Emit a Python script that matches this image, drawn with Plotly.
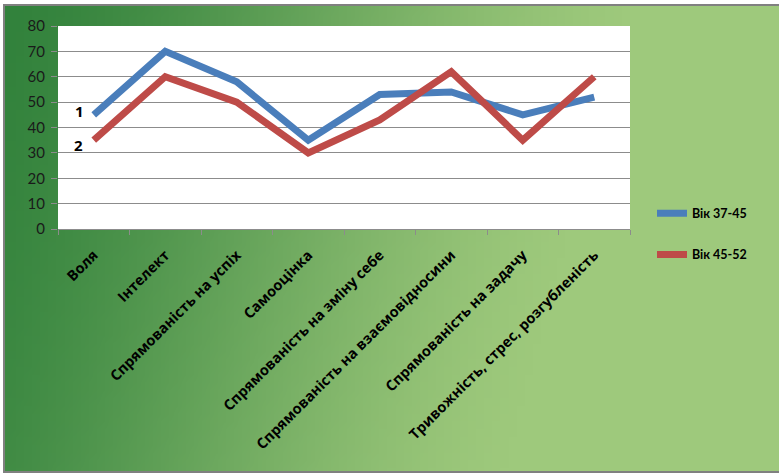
import zlib, struct, base64
import plotly.graph_objects as go

categories = ["Воля", "Інтелект", "Спрямованість на успіх", "Самооцінка",
              "Спрямованість на зміну себе", "Спрямованість на взаємовідносини",
              "Спрямованість на задачу", "Тривожність, стрес, розгубленість"]
series_names = ["Вік 37-45", "Вік 45-52"]
values_37_45 = [45, 70, 58, 35, 53, 54, 45, 52]
values_45_52 = [35, 60, 50, 30, 43, 62, 35, 60]
y_ticks = [0, 10, 20, 30, 40, 50, 60, 70, 80]

W, H = 779, 474
L, R, T, B = 58, 630, 26, 229  # plot area in pixels


def px_x(p):
    return (p - L) / (R - L)


def px_y(p):
    return (B - p) / (B - T)


def grad(u, v):
    t = min(1.0, max(0.0, u * 1.25 + v * 0.2))
    t = t * t * (3 - 2 * t) * 0.6 + t * 0.4
    d = (50, 130, 60)
    l = (158, 201, 124)
    return tuple(int(d[i] + (l[i] - d[i]) * t) for i in range(3))


def make_png(w, h, fn):
    rows = []
    for y in range(h):
        row = bytearray([0])
        for x in range(w):
            row.extend(fn(x / (w - 1), y / (h - 1)))
        rows.append(bytes(row))
    raw = b"".join(rows)

    def chunk(tag, data):
        c = struct.pack(">I", len(data)) + tag + data
        return c + struct.pack(">I", zlib.crc32(tag + data) & 0xffffffff)

    png = (b"\x89PNG\r\n\x1a\n"
           + chunk(b"IHDR", struct.pack(">IIBBBBB", w, h, 8, 2, 0, 0, 0))
           + chunk(b"IDAT", zlib.compress(raw))
           + chunk(b"IEND", b""))
    return "data:image/png;base64," + base64.b64encode(png).decode()


bg = make_png(96, 60, grad)

fig = go.Figure()
fig.add_trace(go.Scatter(x=categories, y=values_37_45, name=series_names[0],
                         mode="lines", line=dict(color="#4a7ebb", width=7),
                         legendgroup="a"))
fig.add_trace(go.Scatter(x=categories, y=values_45_52, name=series_names[1],
                         mode="lines", line=dict(color="#be4b48", width=7),
                         legendgroup="b"))

fig.add_layout_image(dict(source=bg, xref="paper", yref="paper",
                          x=px_x(4), y=px_y(5), sizex=(W - 4) / (R - L),
                          sizey=(472 - 5) / (B - T), xanchor="left", yanchor="top",
                          sizing="stretch", layer="below"))
fig.add_shape(type="rect", xref="x domain", yref="y domain", x0=0, x1=1, y0=0, y1=1,
              fillcolor="white", line=dict(width=0), layer="below")
fig.add_shape(type="rect", xref="paper", yref="paper", x0=px_x(4), x1=px_x(W + 2),
              y0=px_y(472), y1=px_y(5), line=dict(color="#808080", width=2),
              fillcolor="rgba(0,0,0,0)", layer="above")

fig.add_annotation(x=categories[0], y=46.5, text="<b>1</b>", showarrow=False,
                   xshift=-14, font=dict(size=15, color="black", family="Open Sans"))
fig.add_annotation(x=categories[0], y=33, text="<b>2</b>", showarrow=False,
                   xshift=-15, font=dict(size=15, color="black", family="Open Sans"))

fig.update_layout(
    width=W, height=H,
    margin=dict(l=L, r=W - R, t=T, b=H - B),
    paper_bgcolor="white", plot_bgcolor="rgba(0,0,0,0)",
    font=dict(family="Lato", color="black"),
    showlegend=True,
    legend=dict(x=px_x(652), y=px_y(234), xanchor="left", yanchor="middle",
                bgcolor="rgba(0,0,0,0)", tracegroupgap=22, itemwidth=30,
                font=dict(size=12.5, color="black", family="Lato", weight="bold")),
    xaxis=dict(showgrid=False, showline=True, linecolor="#8c8c8c", linewidth=1,
               ticks="outside", ticklen=5, tickcolor="#8c8c8c", tickson="boundaries",
               tickangle=-45, ticklabelstandoff=11,
               tickfont=dict(size=14.5, color="black", family="Open Sans",
                             weight="bold"),
               range=[-0.5, len(categories) - 0.5]),
    yaxis=dict(range=[0, 80], tickvals=y_ticks, showgrid=True, gridcolor="#8c8c8c",
               gridwidth=1, zeroline=False, showline=False, ticks="outside",
               ticklen=6, tickcolor="#8c8c8c", ticklabelstandoff=3,
               tickfont=dict(size=15, color="#1a1a1a", family="Lato")),
)

fig.write_html("out.html", config={"displayModeBar": False},
               post_script="document.body.style.margin='0';document.body.style.overflow='hidden';")
